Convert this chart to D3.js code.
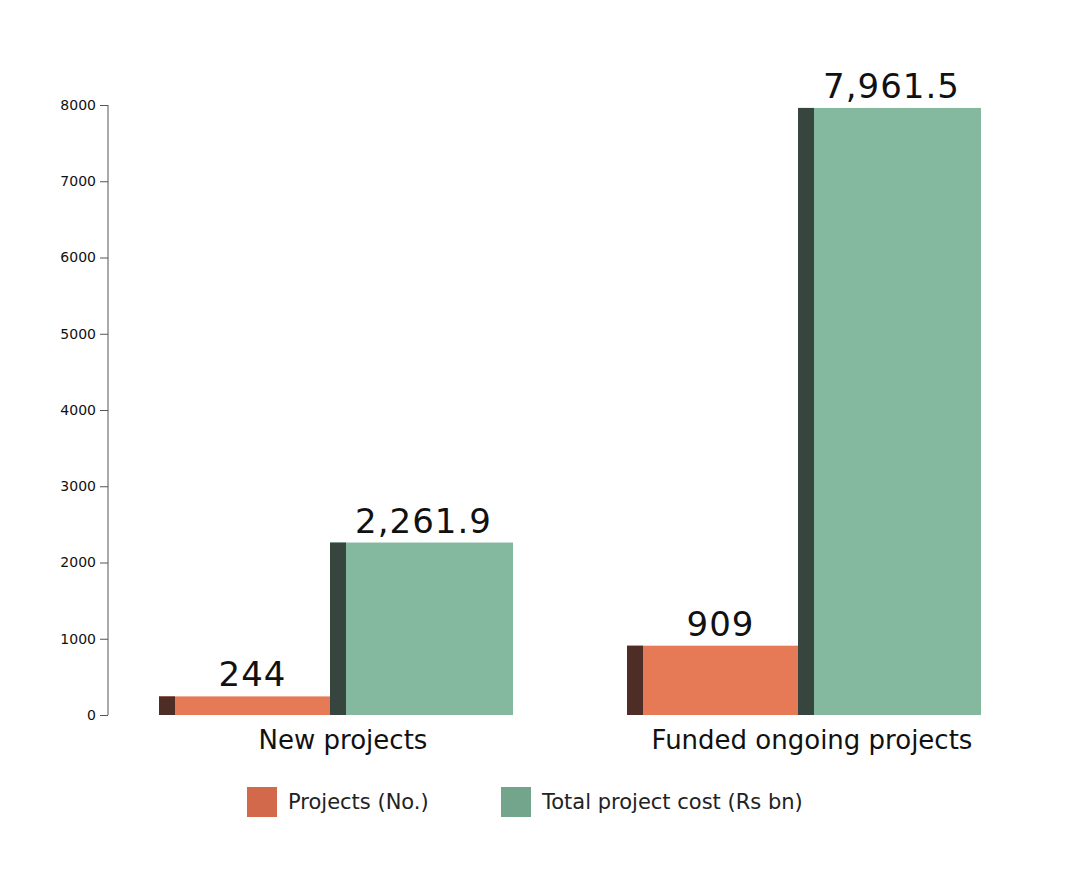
<!DOCTYPE html>
<html>
<head>
<meta charset="utf-8">
<script src="https://cdn.jsdelivr.net/npm/d3@7"></script>
<style>
  body { margin: 0; background: #fff; }
  text { font-family: "DejaVu Sans", sans-serif; }
</style>
</head>
<body>
<div id="chart"></div>
<script>
// Data
const categories = ["New projects", "Funded ongoing projects"];
const seriesNames = ["Projects (No.)", "Total project cost (Rs bn)"];
const projectsNo = [244, 909];
const projectCost = [2261.9, 7961.5];
const valueLabels = [["244", "909"], ["2,261.9", "7,961.5"]];
const yTicks = [0, 1000, 2000, 3000, 4000, 5000, 6000, 7000, 8000];

const width = 1081, height = 880;
const faceColors = ["#e67a57", "#84b9a0"];
const sideColors = ["#4e2d26", "#36463f"];
const legendColors = ["#d2694a", "#72a58b"];

const svg = d3.select("#chart").append("svg")
  .attr("width", width).attr("height", height);

const y = d3.scaleLinear().domain([0, 8000]).range([715, 105]);
const x0 = d3.scaleBand().domain(categories).range([101, 1037]);
const x1 = d3.scaleBand().domain(seriesNames).range([-176, 166]);
const barW = 183, sideW = 16;

// y axis
const axis = d3.axisLeft(y).tickValues(yTicks).tickSize(8).tickPadding(4).tickFormat(d3.format("d"));
const gAxis = svg.append("g").attr("transform", "translate(108,0)").call(axis);
gAxis.select(".domain").attr("stroke", "#555").attr("d", "M0,715V105");
gAxis.selectAll(".tick line").attr("stroke", "#555");
gAxis.selectAll(".tick text").attr("font-size", 14).attr("fill", "#111");

const series = [projectsNo, projectCost];
series.forEach((vals, s) => {
  categories.forEach((c, i) => {
    const left = x0(c) + x0.bandwidth() / 2 + x1(seriesNames[s]);
    const top = y(vals[i]);
    const g = svg.append("g");
    g.append("rect").attr("x", left).attr("y", top)
      .attr("width", barW).attr("height", y(0) - top).attr("fill", faceColors[s]);
    g.append("rect").attr("x", left).attr("y", top)
      .attr("width", sideW).attr("height", y(0) - top).attr("fill", sideColors[s]);
    svg.append("text")
      .attr("x", left + barW / 2 + 2).attr("y", top - 10)
      .attr("text-anchor", "middle").attr("font-size", 34).attr("fill", "#111")
      .attr("letter-spacing", 1)
      .text(valueLabels[s][i]);
  });
});

// category labels
categories.forEach(c => {
  svg.append("text")
    .attr("x", x0(c) + x0.bandwidth() / 2 + (c === categories[0] ? 8 : 9))
    .attr("y", 749).attr("text-anchor", "middle")
    .attr("font-size", 26).attr("fill", "#111").text(c);
});

// legend
const legendX = [247, 501];
seriesNames.forEach((n, s) => {
  svg.append("rect").attr("x", legendX[s]).attr("y", 787)
    .attr("width", 30).attr("height", 30).attr("fill", legendColors[s]);
  svg.append("text").attr("x", legendX[s] + 41).attr("y", 809)
    .attr("font-size", 21).attr("fill", "#222").text(n);
});
</script>
</body>
</html>
